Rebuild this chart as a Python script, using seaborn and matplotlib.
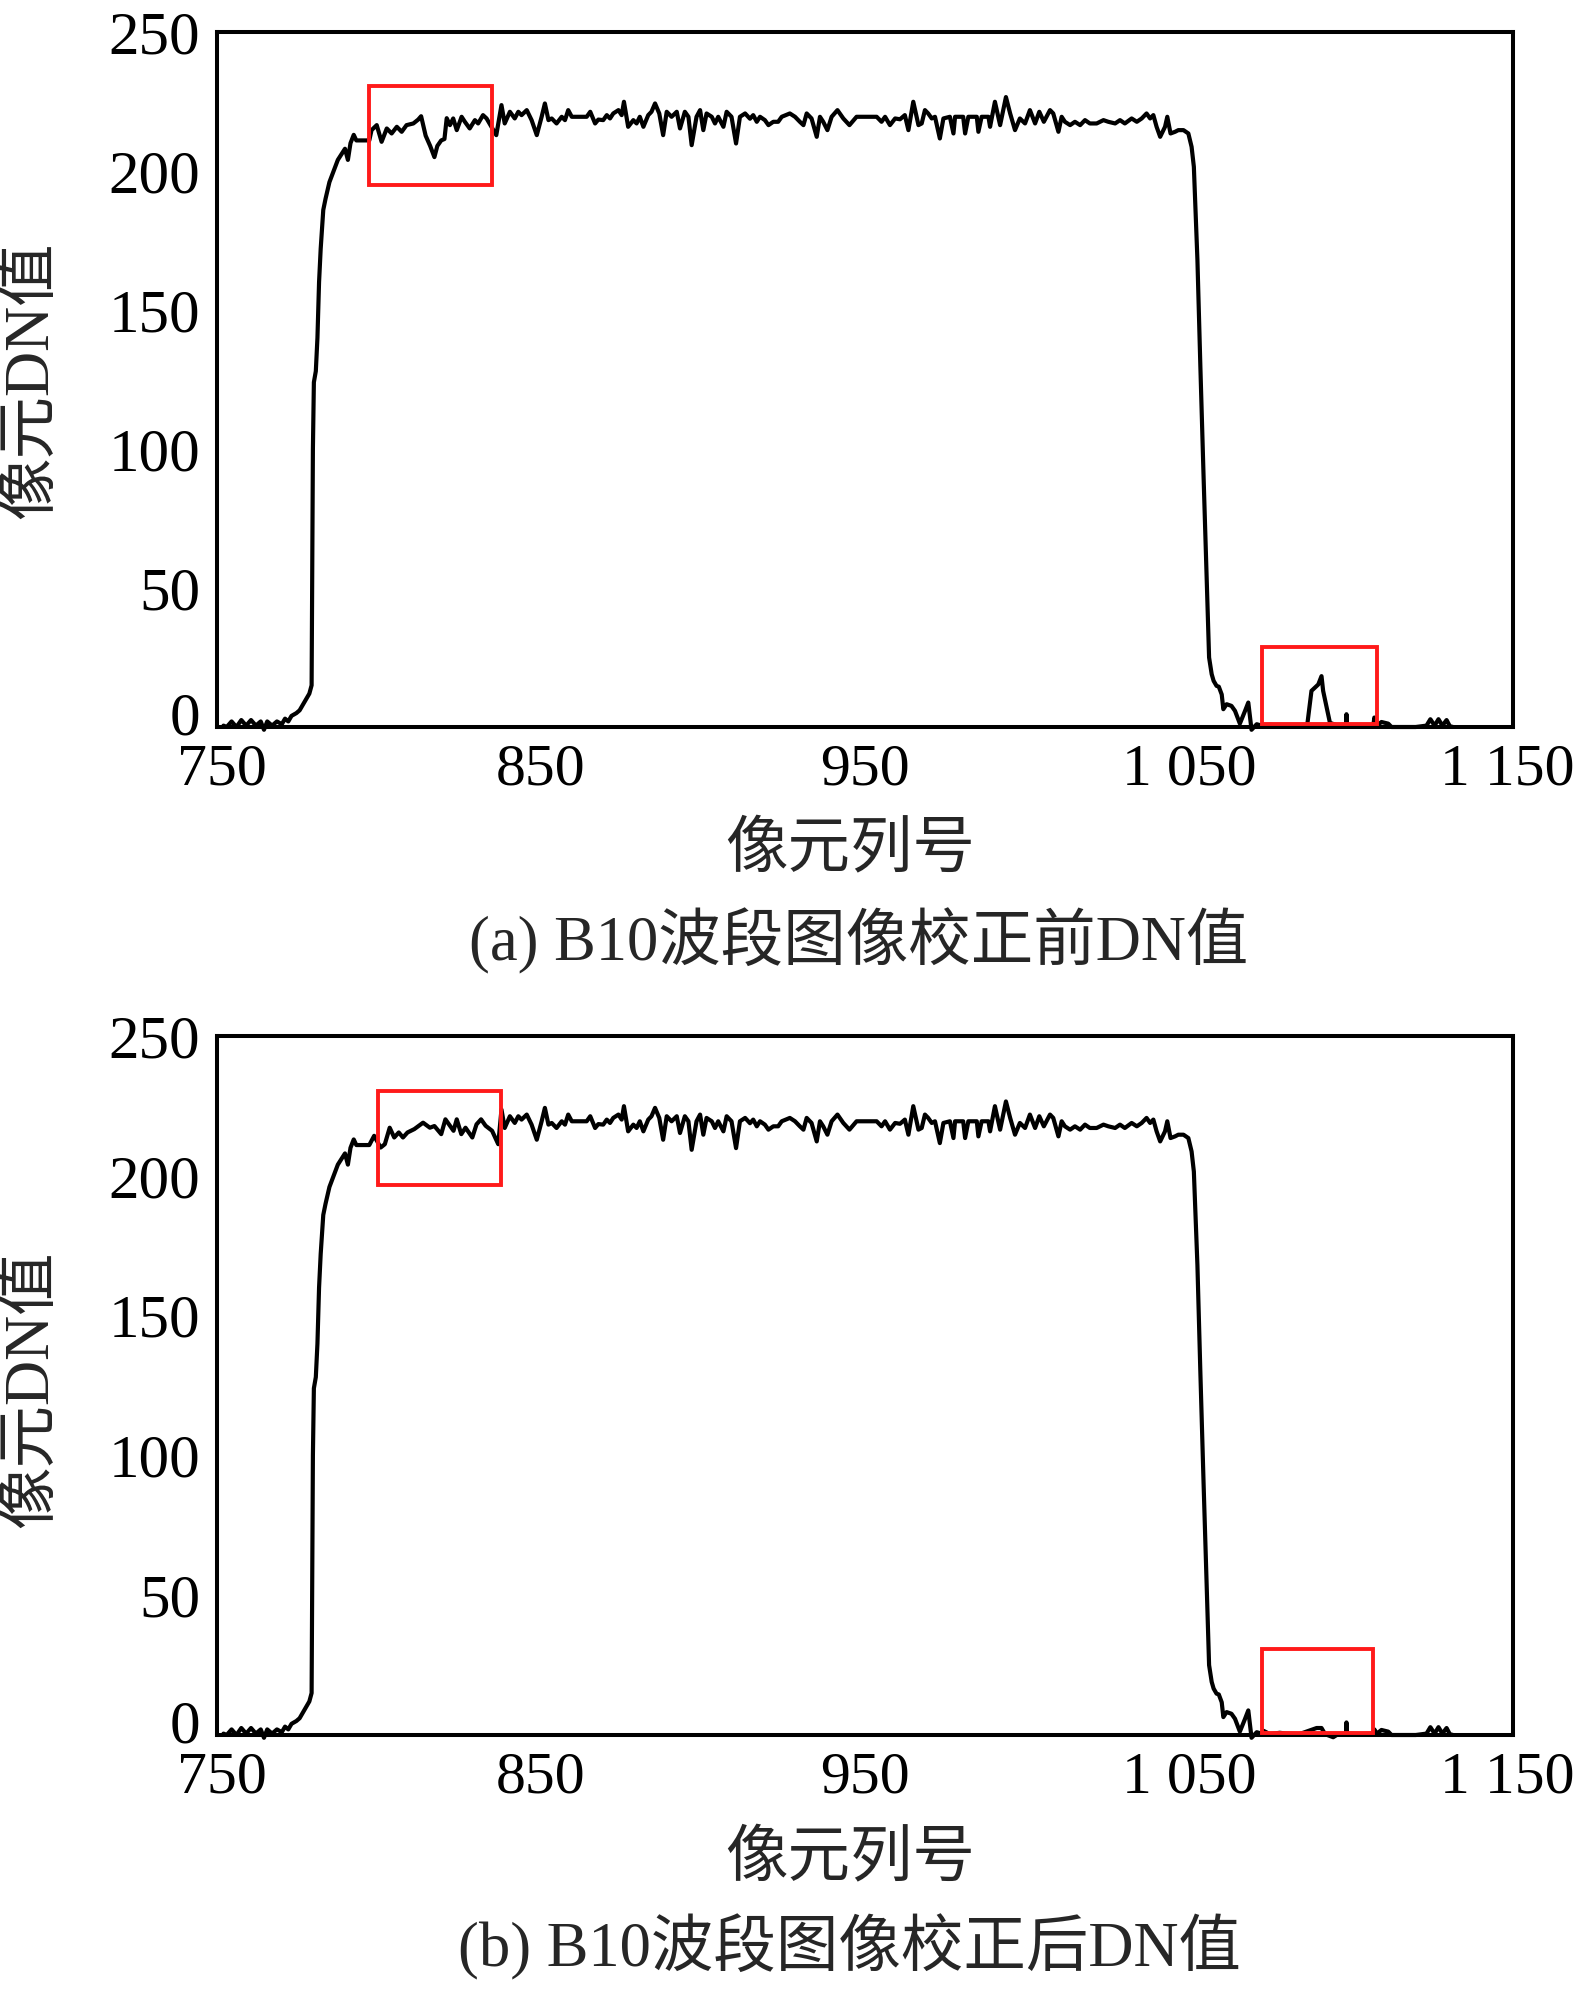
import numpy as np
import matplotlib
matplotlib.use("Agg")
import matplotlib.pyplot as plt
from matplotlib.patches import Rectangle
from matplotlib.transforms import ScaledTranslation
import seaborn as sns

# ---------------- data (pixel column -> DN value) ----------------
col_rise = [752, 753, 754.5, 756, 757.5, 759, 760.5, 762, 763.5, 764.5, 765.5, 767,
            768.5, 770, 771, 772, 773, 774.5, 775.5, 776.5, 777.5, 778.5, 779.2, 779.4,
            779.6, 779.9, 780.5, 781, 781.5, 782, 782.8, 783.5, 784.7, 786, 787.3,
            788.6, 789.5, 790.4, 791.2, 792.2, 793, 797]
dn_rise = [0.5, 0, 2, 0, 2.5, 0.5, 2.5, 0.5, 2, -1, 2, 0.5,
           2, 1, 3, 2, 4, 5, 6, 8, 10, 12, 15, 60,
           100, 124, 128, 140, 160, 172, 186, 190, 196, 200, 204,
           206.4, 208, 204, 210, 213, 211, 211]

# region inside the first red box, before correction
col_box1_a = [797.7, 799.3, 800.8, 802.4, 803.9, 805.5, 807, 808.5, 810.6, 812.1, 813,
              814.4, 815.8, 817.1, 818, 819.2, 820.2, 820.9, 821.9, 822.9, 824, 825.5,
              826.5, 828, 829.6, 830.6, 832.1, 833.2, 834.7, 836.2]
dn_box1_a = [214.7, 216.5, 210.5, 215.3, 213.5, 215.9, 214.1, 216.5, 217.1, 218.5, 219.7,
             212.7, 209, 205, 209, 211, 211.5, 219, 216.5, 218.9, 214.7, 219.5,
             217.7, 215.3, 218.3, 217.1, 220.1, 218.9, 215.9, 212.9]

# region inside the first red box, after correction
col_box1_b = [798.5, 800.5, 801.8, 803.3, 804.7, 806.1, 807.4, 808.8, 810.9, 813.6,
              815.7, 817.1, 819.2, 820.5, 821.9, 823, 824, 825.4, 826.7, 828.8,
              830.1, 831.5, 832.9, 834.9, 836.8]
dn_box1_b = [214.3, 210.1, 211.3, 217.2, 213.7, 215.5, 213.7, 215.5, 216.7, 219,
             217.2, 217.8, 214.9, 220.2, 217.9, 216.1, 220.2, 214.9, 217.2, 213.7,
             218.4, 220.2, 217.9, 216.1, 211.3]

col_plateau = [837.8, 838.8, 840.4, 841.9, 843, 844, 845.6, 847.1, 848.7, 850.2, 851.2,
               852.3, 853.3, 854.8, 856.4, 857.4, 858.4, 859.5, 864.1, 865.2, 866.7,
               867.7, 869.2, 870.3, 871.3, 872.3, 873.9, 874.9, 875.6, 876.9, 878.5,
               879.5, 880.5, 881.6, 883.1, 884.1, 885.2, 886.5, 887.7, 888.8, 890.3,
               891.9, 892.9, 894.4, 895.5, 896.5, 898, 899.1, 900.1, 901.1, 902.7,
               903.7, 904.7, 906.3, 907.3, 908.8, 910.2, 911.4, 913, 914.5, 915.5,
               916.6, 917.6, 919.1, 920.2, 921.7, 923.2, 924.3, 926.8, 928.4, 929.9,
               931, 932, 933.5, 935.1, 936.1, 937.1, 938.4, 939.7, 941.5, 943.3,
               945.2, 947.4, 951.5, 953.6, 955.1, 956.2, 957.7, 959.3, 960.8, 962.3,
               963.4, 964.9, 966.5, 967.5, 968.5, 969.5, 970.6, 971.6, 973.1, 974.2,
               976.2, 977.3, 977.8, 980.3, 980.9, 981.9, 984.5, 985, 986, 988.1,
               988.6, 990.1, 991.7, 993.5, 994.8, 996.3, 997.8, 999.4, 1000.9, 1002.5,
               1003.8, 1005.2, 1007.1, 1008.1, 1009.7, 1010.7, 1011.7, 1013.3, 1014.8,
               1016.4, 1017.9, 1019.4, 1021.5, 1023.6, 1025.1, 1027.2, 1028.7, 1030.2,
               1032.3, 1033.9, 1035.4, 1036.9, 1038, 1039, 1040, 1041.1, 1042.6,
               1043.3, 1044.3, 1045.7, 1046.7, 1048.3, 1049.8]
dn_plateau = [223.7, 217.1, 221.3, 218.9, 221.3, 220.1, 221.9, 218.3, 212.9, 219.5, 224.3,
              218.3, 218.9, 217.1, 219.5, 218.3, 221.9, 219.5, 219.5, 221.3, 217.1,
              218.5, 218.3, 220.1, 218.9, 220.7, 221.9, 220.1, 224.9, 215.9, 218.3,
              217.1, 219.5, 215.9, 220.1, 221.3, 224.3, 220.7, 212.9, 221.3, 219.5,
              221.3, 215.3, 221.3, 219.5, 209.3, 219.5, 221.9, 214.7, 220.7, 219.5,
              217.1, 219.5, 215.9, 221.3, 219.5, 209.9, 219.5, 220.7, 218.8, 220.1,
              217.7, 219.5, 218.3, 216.5, 217.7, 217.7, 219.5, 220.7, 219.5, 217.7,
              216.5, 220.7, 218.9, 212.3, 219.5, 217.7, 214.7, 219.5, 221.9, 218.9,
              216.5, 219.5, 219.5, 219.5, 217.7, 219.5, 216.5, 218.9, 218.6, 220.1,
              214.7, 224.9, 216.5, 217.1, 221.9, 220.7, 218.9, 219.5, 211.7, 218.9,
              219.5, 213.5, 219.5, 219.5, 213.5, 219.5, 219.5, 214.1, 219.5, 219.5,
              215.9, 224.9, 216.5, 226.6, 220.7, 214.7, 218.9, 217.1, 221.9, 217.1,
              221.3, 217.7, 221.9, 220.7, 214.1, 219.5, 217.7, 216.5, 217.7,
              216.5, 218.3, 217.1, 217.1, 218.3, 217.7, 217.1, 218.3, 217.1,
              218.9, 217.7, 218.9, 220.7, 218.9, 220.1, 215.9, 212.3, 215.9,
              219.5, 213.5, 214.1, 214.7, 214.7, 213.5]

col_fall = [1050.8, 1051.5, 1052, 1052.6, 1053.5, 1054.5, 1055.3, 1056.2, 1057,
            1057.6, 1058.5, 1059.2, 1060.1, 1060.6, 1061.6, 1063.1, 1064.2, 1065.7,
            1067.3, 1068.3, 1069.3, 1070.9, 1072.4]
dn_fall = [208.7, 201.5, 186, 168, 130, 90, 60, 25, 19,
           16.6, 14.8, 14.5, 11.7, 6.4, 8.2, 7.6, 5.8, 1.2,
           5.8, 8.8, -1, 1, 0.5]

# region inside the second red box, before correction
col_box2_a = [1073, 1075, 1080, 1086.5, 1087.8, 1089.9, 1090.9, 1091.4, 1093.5, 1096,
              1098.5, 1098.6, 1098.7, 1103, 1106.9, 1107.2]
dn_box2_a = [0.3, 0.8, 0.3, 0.8, 13, 15.3, 18.3, 13, 1.5, 0.5,
             0.5, 4.6, 0.5, 0.3, 0.5, 3.4]

# region inside the second red box, after correction
col_box2_b = [1073, 1075, 1078, 1080, 1084, 1089.4, 1090.9, 1092, 1094.5, 1096,
              1098.5, 1098.6, 1098.7, 1103, 1106.9, 1107.2]
dn_box2_b = [1.5, 0.3, 0.8, 0.5, 0.3, 2.5, 2.5, 0.3, -0.8, 0.3,
             0.3, 4.5, 0.5, 0.3, 0.5, 2.0]

col_tail = [1108, 1109.4, 1111.5, 1112.5, 1120, 1123.3, 1124.5, 1125.8, 1127,
            1128.2, 1129.5, 1130.5, 1131.5]
dn_tail = [0.5, 1.8, 1.2, 0, 0, 0.5, 2.8, 0.5, 2.8,
           0.5, 2.5, 0.3, 0]

x_ticks = [750, 800, 850, 900, 950, 1000, 1050, 1100, 1150]
x_tick_labels = ["750", "", "850", "", "950", "", "1 050", "", "1 150"]
y_ticks = [0, 50, 100, 150, 200, 250]
y_tick_labels = ["0", "50", "100", "150", "200", "250"]

# highlighted regions (col0, col1, dn0, dn1)
boxes_a = [(797, 835, 195, 230.5), (1072.4, 1107.9, 1.0, 28.6)]
boxes_b = [(799.6, 837.7, 196.8, 230.4), (1072.4, 1106.9, 0.8, 30.8)]

x_label = "像元列号"
y_label = "像元DN值"
caption_a = "(a) B10波段图像校正前DN值"
caption_b = "(b) B10波段图像校正后DN值"

# ---------------- assemble series ----------------
cols_a = col_rise + col_box1_a + col_plateau + col_fall + col_box2_a + col_tail
dns_a = dn_rise + dn_box1_a + dn_plateau + dn_fall + dn_box2_a + dn_tail
cols_b = col_rise + col_box1_b + col_plateau + col_fall + col_box2_b + col_tail
dns_b = dn_rise + dn_box1_b + dn_plateau + dn_fall + dn_box2_b + dn_tail

# ---------------- style ----------------
sns.set_style("white")
FAM = ["Liberation Serif", "Noto Sans CJK SC"]
plt.rcParams["font.family"] = FAM
plt.rcParams["axes.unicode_minus"] = False

W, H = 1578, 1989
fig = plt.figure(figsize=(W / 100, H / 100), dpi=100)
fig.patch.set_facecolor("white")

ax_a = fig.add_axes([217 / W, 1 - 727 / H, 1296 / W, 695 / H])
ax_b = fig.add_axes([217 / W, 1 - 1735 / H, 1296 / W, 699 / H])


def shift(label, dx_px, dy_px):
    label.set_transform(label.get_transform() +
                        ScaledTranslation(dx_px / 100, dy_px / 100, fig.dpi_scale_trans))


def draw(ax, cols, dns, boxes):
    sns.lineplot(x=cols, y=dns, ax=ax, color="black", linewidth=3.0,
                 estimator=None, sort=False, clip_on=False, zorder=3)
    ax.set_xlim(750, 1150)
    ax.set_ylim(0, 250)
    ax.set_xticks(x_ticks)
    ax.set_xticklabels(x_tick_labels)
    ax.set_yticks(y_ticks)
    ax.set_yticklabels(y_tick_labels)
    ax.tick_params(axis="both", direction="in", length=9.5, width=2.6,
                   colors="black", top=False, right=False)
    ax.tick_params(axis="x", pad=12, labelsize=43)
    ax.tick_params(axis="y", pad=12, labelsize=44)
    for s in ax.spines.values():
        s.set_visible(True)
        s.set_linewidth(2.9)
        s.set_color("black")
    ax.set_xlabel("")
    ax.set_ylabel("")
    ax.grid(False)
    for (c0, c1, d0, d1) in boxes:
        ax.add_patch(Rectangle((c0, d0), c1 - c0, d1 - d0, fill=False,
                               edgecolor="#ff1a1a", linewidth=2.8, zorder=4,
                               clip_on=False))
    # small offsets of some tick labels, as in the original
    shift(ax.yaxis.get_major_ticks()[0].label1, 0, 14)
    xt = ax.xaxis.get_major_ticks()
    shift(xt[0].label1, 5, 0)
    shift(xt[-1].label1, -6, 0)


draw(ax_a, cols_a, dns_a, boxes_a)
draw(ax_b, cols_b, dns_b, boxes_b)

fs = 45
fig.text(850 / W, 1 - 852 / H, x_label, ha="center", va="center", fontsize=fs, family=FAM)
fig.text(859 / W, 1 - 941 / H, caption_a, ha="center", va="center", fontsize=fs, family=FAM)
fig.text(850 / W, 1 - 1861 / H, x_label, ha="center", va="center", fontsize=fs, family=FAM)
fig.text(850 / W, 1 - 1947 / H, caption_b, ha="center", va="center", fontsize=fs, family=FAM)
fig.text(32 / W, 1 - 380 / H, y_label, ha="center", va="center", rotation=90,
         fontsize=fs, family=FAM)
fig.text(32 / W, 1 - 1389 / H, y_label, ha="center", va="center", rotation=90,
         fontsize=fs, family=FAM)

fig.savefig("out.png", dpi=100, facecolor="white")
